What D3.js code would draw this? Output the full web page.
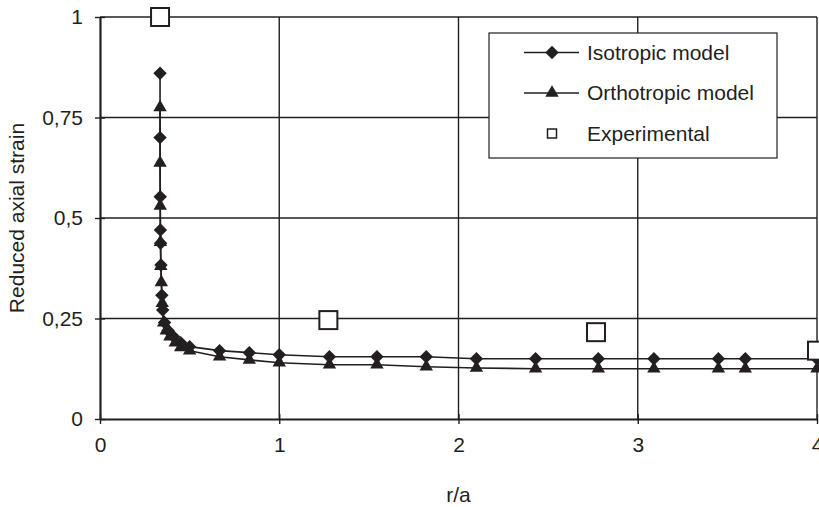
<!DOCTYPE html>
<html>
<head>
<meta charset="utf-8">
<script src="https://cdn.jsdelivr.net/npm/d3@7"></script>
<style>
  html, body { margin: 0; padding: 0; background: #fff; }
  svg { display: block; }
  text { font-family: "Liberation Sans", Arial, sans-serif; fill: #231f20; }
</style>
</head>
<body>
<svg id="chart" width="819" height="507"></svg>
<script>
// Reduced axial strain versus r/a
const isoX = [0.335, 0.335, 0.336, 0.337, 0.338, 0.340, 0.345, 0.350, 0.360, 0.380, 0.410, 0.450, 0.500,
              0.667, 0.833, 1.000, 1.280, 1.545, 1.820, 2.100, 2.430, 2.780, 3.090, 3.450, 3.600, 4.000];
const isoY = [0.860, 0.700, 0.553, 0.470, 0.437, 0.383, 0.308, 0.271, 0.240, 0.220, 0.205, 0.190, 0.180,
              0.170, 0.165, 0.160, 0.155, 0.155, 0.155, 0.150, 0.150, 0.150, 0.150, 0.150, 0.150, 0.150];

const orthoX = [0.335, 0.335, 0.336, 0.337, 0.339, 0.342, 0.347, 0.355, 0.370, 0.390, 0.420, 0.450, 0.500,
                0.667, 0.833, 1.000, 1.280, 1.545, 1.820, 2.100, 2.430, 2.780, 3.090, 3.450, 3.600, 4.000];
const orthoY = [0.775, 0.637, 0.530, 0.440, 0.380, 0.340, 0.288, 0.240, 0.220, 0.205, 0.190, 0.178, 0.170,
                0.155, 0.147, 0.140, 0.135, 0.135, 0.130, 0.127, 0.125, 0.125, 0.125, 0.125, 0.125, 0.125];

const expX = [0.335, 1.274, 2.767, 4.000];
const expY = [1.000, 0.246, 0.216, 0.170];

const xTicks = [0, 1, 2, 3, 4];
const yTicks = [0, 0.25, 0.5, 0.75, 1];
const yTickLabels = ["0", "0,25", "0,5", "0,75", "1"];
const seriesNames = ["Isotropic model", "Orthotropic model", "Experimental"];

const ink = "#231f20";
const fontSize = 21;
const svg = d3.select("#chart");

const x = d3.scaleLinear().domain([0, 4]).range([100, 817]);
const y = d3.scaleLinear().domain([0, 1]).range([419, 17]);

// grid
const grid = svg.append("g");
grid.selectAll("line.h").data(yTicks.filter(d => d > 0)).join("line")
  .attr("x1", x(0)).attr("x2", x(4))
  .attr("y1", d => y(d)).attr("y2", d => y(d))
  .attr("stroke", ink).attr("stroke-width", 1.4);
grid.selectAll("line.v").data(xTicks.filter(d => d > 0)).join("line")
  .attr("y1", y(0)).attr("y2", y(1))
  .attr("x1", d => x(d)).attr("x2", d => x(d))
  .attr("stroke", ink).attr("stroke-width", 1.4);

// axes with ticks crossing the axis line
const xAxis = svg.append("g").attr("transform", `translate(0,${y(0)})`)
  .call(d3.axisBottom(x).tickValues(xTicks).tickSizeInner(5).tickSizeOuter(0).tickPadding(13)
    .tickFormat(d3.format("d")));
xAxis.selectAll(".tick line").attr("y1", -5);
const yAxis = svg.append("g").attr("transform", `translate(${x(0)},0)`)
  .call(d3.axisLeft(y).tickValues(yTicks).tickSizeInner(5).tickSizeOuter(0).tickPadding(12)
    .tickFormat((d, i) => yTickLabels[i]));
yAxis.selectAll(".tick line").attr("x1", 5);
[xAxis, yAxis].forEach(g => {
  g.select(".domain").attr("stroke", ink).attr("stroke-width", 2.2);
  g.selectAll(".tick line").attr("stroke", ink).attr("stroke-width", 1.4);
  g.selectAll(".tick text").attr("font-size", fontSize).attr("fill", ink)
    .style("font-family", '"Liberation Sans", Arial, sans-serif');
});

// axis titles
svg.append("text").attr("x", x(2)).attr("y", 502).attr("text-anchor", "middle")
  .attr("font-size", fontSize).text("r/a");
svg.append("text").attr("transform", `translate(24,${y(0.5)}) rotate(-90)`)
  .attr("text-anchor", "middle").attr("font-size", fontSize).text("Reduced axial strain");

// series
const diamond = d3.symbol().type(d3.symbolSquare).size(90);
const triangle = d3.symbol().type(d3.symbolTriangle).size(78);
const line = d3.line().x(d => x(d[0])).y(d => y(d[1]));

const iso = isoX.map((v, i) => [v, isoY[i]]);
const ortho = orthoX.map((v, i) => [v, orthoY[i]]);
const exp = expX.map((v, i) => [v, expY[i]]);

svg.append("path").datum(iso).attr("d", line).attr("fill", "none")
  .attr("stroke", ink).attr("stroke-width", 1.6);
svg.append("path").datum(ortho).attr("d", line).attr("fill", "none")
  .attr("stroke", ink).attr("stroke-width", 1.6);

svg.append("g").selectAll("path").data(iso).join("path")
  .attr("d", diamond)
  .attr("transform", d => `translate(${x(d[0])},${y(d[1])}) rotate(45)`)
  .attr("fill", ink);
svg.append("g").selectAll("path").data(ortho).join("path")
  .attr("d", triangle)
  .attr("transform", d => `translate(${x(d[0])},${y(d[1])})`)
  .attr("fill", ink);
svg.append("g").selectAll("rect").data(exp).join("rect")
  .attr("x", d => x(d[0]) - 9).attr("y", d => y(d[1]) - 9)
  .attr("width", 18).attr("height", 18)
  .attr("fill", "#fff").attr("stroke", ink).attr("stroke-width", 2);

// legend
const lg = svg.append("g").attr("transform", "translate(489,33)");
lg.append("rect").attr("width", 288).attr("height", 125)
  .attr("fill", "#fff").attr("stroke", ink).attr("stroke-width", 1.2);
const rows = [19.5, 60, 100.5];
[0, 1].forEach(i => {
  lg.append("line").attr("x1", 35).attr("x2", 90).attr("y1", rows[i]).attr("y2", rows[i])
    .attr("stroke", ink).attr("stroke-width", 1.6);
});
lg.append("path").attr("d", diamond).attr("transform", `translate(63,${rows[0]}) rotate(45)`).attr("fill", ink);
lg.append("path").attr("d", triangle).attr("transform", `translate(63,${rows[1]})`).attr("fill", ink);
lg.append("rect").attr("x", 58.5).attr("y", rows[2] - 4.5).attr("width", 9).attr("height", 9)
  .attr("fill", "#fff").attr("stroke", ink).attr("stroke-width", 1.5);
lg.selectAll("text.lbl").data(seriesNames).join("text")
  .attr("x", 98).attr("y", (d, i) => rows[i]).attr("dy", "0.35em")
  .attr("font-size", fontSize).text(d => d);
</script>
</body>
</html>
